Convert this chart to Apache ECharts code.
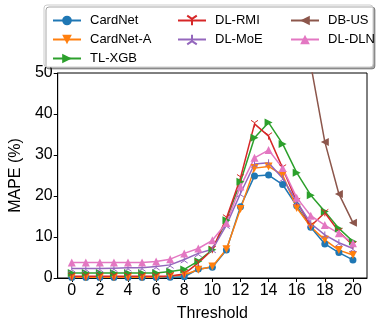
<!DOCTYPE html>
<html>
<head>
<meta charset="utf-8">
<script src="https://cdn.jsdelivr.net/npm/echarts@6/dist/echarts.min.js"></script>
<style>
  html, body { margin: 0; padding: 0; background: #fff; }
  #chart { width: 382px; height: 327px; }
</style>
</head>
<body>
<div id="chart"></div>
<script>
// MAPE (%) por umbral
const thresholds = [0, 1, 2, 3, 4, 5, 6, 7, 8, 9, 10, 11, 12, 13, 14, 15, 16, 17, 18, 19, 20];
const xTicks = [0, 2, 4, 6, 8, 10, 12, 14, 16, 18, 20];

const cardNet  = [0.1, 0.1, 0.1, 0.1, 0.1, 0.1, 0.1, 0.2, 0.3, 2.2, 2.6, 6.8, 17.4, 24.9, 25.1, 22.8, 17.6, 12.4, 8.3, 6.2, 4.4];
const cardNetA = [0.2, 0.2, 0.2, 0.2, 0.2, 0.2, 0.2, 0.4, 0.8, 2.0, 2.8, 7.0, 16.8, 26.8, 27.2, 25.1, 17.1, 12.5, 9.3, 6.8, 5.6];
const tlXgb    = [1.2, 1.2, 1.2, 1.2, 1.2, 1.2, 1.2, 1.6, 2.1, 4.1, 6.9, 14.1, 23.5, 34.2, 37.9, 32.7, 25.7, 20.2, 16.2, 12.1, 8.9];
const dlRmi    = [0.4, 0.4, 0.4, 0.4, 0.4, 0.4, 0.4, 0.5, 1.0, 3.7, 6.9, 14.6, 24.4, 37.6, 34.6, 26.8, 18.6, 12.7, 15.9, 11.3, 8.0];
const dlMoe    = [2.3, 2.3, 2.3, 2.4, 2.5, 2.5, 2.8, 3.2, 4.5, 6.0, 7.0, 12.9, 20.6, 27.8, 28.1, 24.3, 18.6, 13.3, 10.5, 8.6, 7.2];
const dbUs     = [51, 51, 51, 51, 51, 51.5, 51, 51, 51, 60, 66, 72, 76, 78, 74, 68, 60, 52, 33.2, 20.5, 13.5];
const dlDln    = [3.8, 3.8, 3.8, 3.8, 3.8, 3.8, 4.0, 4.6, 6.0, 7.2, 9.2, 13.4, 22.3, 29.3, 31.2, 26.8, 19.6, 15.2, 12.9, 10.9, 8.5];

const FONT = 'Liberation Sans';
const TRI_DOWN = 'path://M5,5L5,10M5,5L0.7,2.5M5,5L9.3,2.5';
const TRI_UP = 'path://M5,5L5,0M5,5L0.7,7.5M5,5L9.3,7.5';

const pts = vals => thresholds.map((t, i) => [t, vals[i]]);

function line(name, vals, color, symbol, size, rotate, stroke) {
  return {
    name, type: 'line', data: pts(vals), clip: true,
    symbol, symbolSize: size, symbolRotate: rotate || 0, showAllSymbol: true,
    lineStyle: { color, width: 1.5 },
    itemStyle: stroke ? { color: 'transparent', borderColor: color, borderWidth: 1 } : { color },
    emphasis: { disabled: true },
  };
}

function legendCol(left, names) {
  return {
    orient: 'vertical', left, top: 9, data: names,
    itemWidth: 28, itemHeight: 12, itemGap: 6, z: 10,
    textStyle: { fontFamily: FONT, fontSize: 13, color: '#000', padding: [0, 0, 0, 4] },
  };
}

const chart = echarts.init(document.getElementById('chart'), null, { renderer: 'canvas' });
chart.setOption({
  animation: false,
  graphic: [{
    type: 'rect', z: 1,
    shape: { x: 44, y: 5, width: 329, height: 62, r: 3 },
    style: { fill: '#fff', stroke: '#cccccc', lineWidth: 1,
      shadowBlur: 0, shadowOffsetX: 2, shadowOffsetY: 2, shadowColor: 'rgba(0,0,0,0.35)' },
  }],
  legend: [
    legendCol(47, ['CardNet', 'CardNet-A', 'TL-XGB']),
    legendCol(172, ['DL-RMI', 'DL-MoE']),
    legendCol(285, ['DB-US', 'DL-DLN']),
  ],
  grid: { left: 52, right: 15, top: 73, bottom: 49, show: true, borderColor: '#000', borderWidth: 1 },
  xAxis: {
    type: 'value', min: -1, max: 21,
    name: 'Threshold', nameLocation: 'middle', nameGap: 28,
    nameTextStyle: { fontFamily: FONT, fontSize: 16, color: '#000' },
    axisLine: { onZero: false, lineStyle: { color: '#000', width: 1 } },
    axisTick: { customValues: xTicks, length: 4, lineStyle: { color: '#000' } },
    axisLabel: { customValues: xTicks, fontFamily: FONT, fontSize: 16, color: '#000', margin: 5 },
    splitLine: { show: false },
  },
  yAxis: {
    type: 'value', min: 0, max: 50, interval: 10,
    name: 'MAPE (%)', nameLocation: 'middle', nameGap: 28, nameRotate: 90,
    nameTextStyle: { fontFamily: FONT, fontSize: 16, color: '#000' },
    axisLine: { show: true, onZero: false, lineStyle: { color: '#000', width: 1 } },
    axisTick: { show: true, length: 4, lineStyle: { color: '#000' } },
    axisLabel: { fontFamily: FONT, fontSize: 16, color: '#000', margin: 5 },
    splitLine: { show: false },
  },
  series: [
    line('CardNet', cardNet, '#1f77b4', 'circle', 7),
    line('CardNet-A', cardNetA, '#ff7f0e', 'triangle', 8, 180),
    line('TL-XGB', tlXgb, '#2ca02c', 'triangle', 8, -90),
    line('DL-RMI', dlRmi, '#d62728', TRI_DOWN, 7, 0, true),
    line('DL-MoE', dlMoe, '#9467bd', TRI_UP, 7, 0, true),
    line('DB-US', dbUs, '#8c564b', 'triangle', 8, 90),
    line('DL-DLN', dlDln, '#e377c2', 'triangle', 8),
  ],
});
</script>
</body>
</html>
